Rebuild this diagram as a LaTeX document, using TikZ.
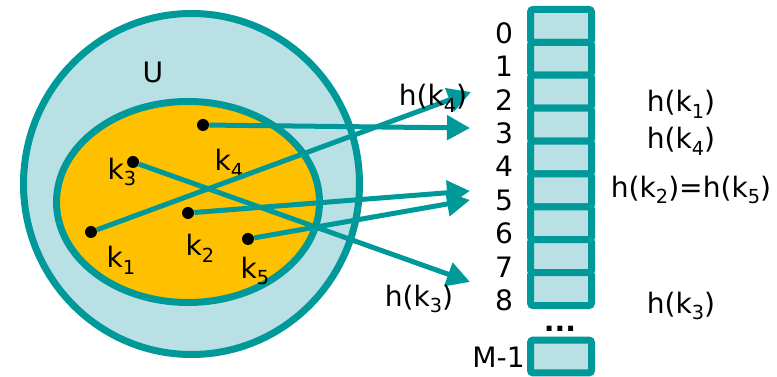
\documentclass[tikz,border=0pt]{standalone}
\usepackage{fontspec}
\setmainfont{DejaVu Sans}
\usetikzlibrary{arrows.meta}
\definecolor{petrol}{RGB}{0,153,153}
\definecolor{celeste}{RGB}{185,224,228}
\definecolor{naranja}{RGB}{255,192,0}
\newcommand{\ksub}[1]{k\raisebox{-0.45ex}{\fontsize{11}{11}\selectfont #1}}

\begin{document}
\begin{tikzpicture}[x=0.02cm, y=-0.02cm,
        conjunto/.style={draw=petrol, line width=0.14cm},
        punto/.style={circle, fill=black, inner sep=0pt, minimum size=0.24cm},
        etiqueta/.style={font=\fontsize{16}{19}\selectfont, inner sep=0pt},
        celda/.style={draw=petrol, fill=celeste, line width=0.14cm, rounded corners=1.5pt,
        minimum width=1.22cm, minimum height=0.658cm, inner sep=0pt},
        flecha/.style={petrol, line width=0.1cm, -{Triangle[length=0.46cm, width=0.48cm]}}
    ]
    \useasboundingbox (0,0) rectangle (777,377);
    \draw[conjunto, fill=celeste] (191.5,184) ellipse [x radius=168, y radius=170.5];
    \draw[conjunto, fill=naranja] (188,202) ellipse [x radius=131.5, y radius=100.5];
    \node[etiqueta] (U) at (153,72) {U};

    \node[punto] (k1) at (91,232) {};
    \node[punto] (k2) at (188,213) {};
    \node[punto] (k3) at (133,162) {};
    \node[punto] (k4) at (203,125) {};
    \node[punto] (k5) at (248,239) {};
    \node[etiqueta] (lk1) at (121,260) {\ksub{1}};
    \node[etiqueta] (lk2) at (200,248) {\ksub{2}};
    \node[etiqueta] (lk3) at (122,172) {\ksub{3}};
    \node[etiqueta] (lk4) at (229,163) {\ksub{4}};
    \node[etiqueta] (lk5) at (255,271) {\ksub{5}};

    \foreach \i in {0,...,8}
        \node[celda] (s\i) at (561,{25.9+32.9*\i}) {};
    \foreach \i in {0,...,8}
        \node[etiqueta] (n\i) at (504,{33+33.4*\i}) {\i};
    \node[celda] (sM) at (561,356.5) {};
    \node[etiqueta, anchor=east] (nM) at (525,357) {M-1};
    \node[etiqueta, font=\fontsize{16}{19}\selectfont\bfseries, anchor=base] (puntos) at (560,332) {...};

    \coordinate (t2) at (471,92);
    \coordinate (t3) at (470,128);
    \coordinate (t5a) at (470,191);
    \coordinate (t5b) at (470,200);
    \coordinate (t8) at (470,282);
    \draw[flecha] (k1) -- (t2);
    \draw[flecha] (k4) -- (t3);
    \draw[flecha] (k2) -- (t5a);
    \draw[flecha] (k5) -- (t5b);
    \draw[flecha] (k3) -- (t8);

    \node[etiqueta] (hk4) at (433,98) {h(\ksub{4})};
    \node[etiqueta] (hk3) at (419,299) {h(\ksub{3})};
    \node[etiqueta] (r2) at (681,104) {h(\ksub{1})};
    \node[etiqueta] (r3) at (681,141) {h(\ksub{4})};
    \node[etiqueta] (r5) at (691,190) {h(\ksub{2})=h(\ksub{5})};
    \node[etiqueta] (r8) at (681,306) {h(\ksub{3})};
\end{tikzpicture}
\end{document}
